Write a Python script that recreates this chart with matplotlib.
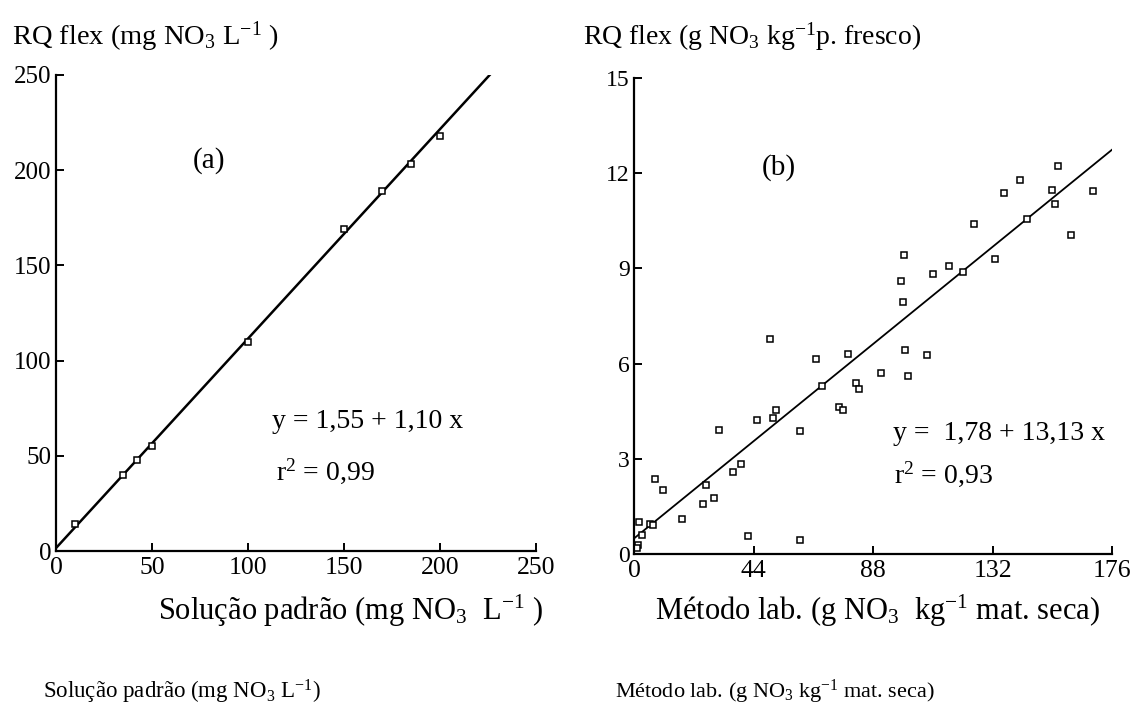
import numpy as np
import matplotlib
matplotlib.use('Agg')
import matplotlib.pyplot as plt

plt.rcParams['font.family'] = ['Liberation Serif', 'DejaVu Serif']
plt.rcParams['mathtext.fontset'] = 'custom'
plt.rcParams['mathtext.rm'] = 'Liberation Serif'
plt.rcParams['mathtext.it'] = 'Liberation Serif:italic'

# panel (a): standard solution vs RQ flex
sol_padrao = [10, 35, 42, 50, 100, 150, 170, 185, 200]
rq_a = [14, 40, 48, 55, 110, 169, 189, 203, 218]
fit_a = (1.55, 1.10)

# panel (b): lab method vs RQ flex
metodo_lab = [99.2, 50.1, 99.8, 67.0, 78.9, 90.9, 101.0, 69.1, 81.7, 82.8,
              75.6, 76.8, 52.2, 51.3, 45.2, 61.1, 31.4, 39.3, 36.3, 26.5,
              7.7, 10.8, 29.5, 25.5, 17.6, 2.0, 5.9, 7.1, 3.1, 41.9,
              61.1, 1.6, 1.0, 156.0, 142.1, 136.2, 154.0, 168.9, 155.0, 144.8,
              125.2, 160.9, 99.4, 132.9, 116.1, 110.0, 121.0, 98.3, 107.9]
rq_b = [7.94, 6.78, 6.43, 6.13, 6.30, 5.71, 5.62, 5.30, 5.38, 5.20,
        4.62, 4.54, 4.55, 4.30, 4.23, 3.88, 3.90, 2.83, 2.59, 2.17,
        2.36, 2.01, 1.75, 1.59, 1.09, 1.02, 0.94, 0.92, 0.60, 0.57,
        0.44, 0.28, 0.20, 12.22, 11.78, 11.39, 11.46, 11.43, 11.04, 10.55,
        10.39, 10.04, 9.43, 9.31, 9.07, 8.83, 8.90, 8.59, 6.28]
fit_b_drawn = (0.49, 0.0696)   # line as drawn on the plot

W, H = 1148, 710
fig = plt.figure(figsize=(W / 100, H / 100), dpi=100)


def px_axes(x0, x1, y_top, y_bot):
    return fig.add_axes([x0 / W, 1 - y_bot / H, (x1 - x0) / W, (y_bot - y_top) / H])


def ftext(x, y, s, size, **kw):
    fig.text(x / W, 1 - y / H, s, fontsize=size, va='baseline', **kw)


def style(ax, ylab_size):
    for s in ['top', 'right']:
        ax.spines[s].set_visible(False)
    for s in ['left', 'bottom']:
        ax.spines[s].set_linewidth(1.6)
    ax.tick_params(direction='in', length=6, width=1.4)
    ax.tick_params(axis='x', labelsize=18.5, pad=4)
    ax.tick_params(axis='y', labelsize=ylab_size, pad=3)


# ---- (a)
ax1 = px_axes(56, 536, 75, 551)
xa = np.array([0, (250 - fit_a[0]) / fit_a[1]])
ax1.plot(xa, fit_a[0] + fit_a[1] * xa, color='black', lw=1.8)
ax1.plot(sol_padrao, rq_a, 's', ms=4, mfc='white', mec='black', mew=1.1, clip_on=False)
ax1.set_xlim(0, 250)
ax1.set_ylim(0, 250)
ax1.set_xticks([0, 50, 100, 150, 200, 250])
ax1.set_yticks([0, 50, 100, 150, 200, 250])
style(ax1, 18)

# ---- (b)
ax2 = px_axes(634, 1112, 78, 554)
xb = np.array([0, 176])
ax2.plot(xb, fit_b_drawn[0] + fit_b_drawn[1] * xb, color='black', lw=1.3)
ax2.plot(metodo_lab, rq_b, 's', ms=4, mfc='white', mec='black', mew=1.1, clip_on=False)
ax2.set_xlim(0, 176)
ax2.set_ylim(0, 15)
ax2.set_xticks([0, 44, 88, 132, 176])
ax2.set_yticks([0, 3, 6, 9, 12, 15])
style(ax2, 17)

# titles and annotations
ftext(12, 45, r'RQ flex (mg NO$_3$ L$^{-1}$ )', 20.5)
ftext(583, 45, r'RQ flex (g NO$_3$ kg$^{-1}$p. fresco)', 20)
ftext(158, 620, r'Solução padrão (mg NO$_3$  L$^{-1}$ )', 22)
ftext(655, 620, r'Método lab. (g NO$_3$  kg$^{-1}$ mat. seca)', 22)
ftext(193, 168, '(a)', 21)
ftext(762, 175, '(b)', 21)
ftext(272, 428, 'y = 1,55 + 1,10 x', 20)
ftext(276, 480, r'r$^2$ = 0,99', 20)
ftext(893, 440, 'y =  1,78 + 13,13 x', 20)
ftext(894, 483, r'r$^2$ = 0,93', 20)
ftext(43, 698, r'Solução padrão (mg NO$_3$ L$^{-1}$)', 16.5)
ftext(615, 698, r'Método lab. (g NO$_3$ kg$^{-1}$ mat. seca)', 16)

fig.savefig('out.png', dpi=100)
